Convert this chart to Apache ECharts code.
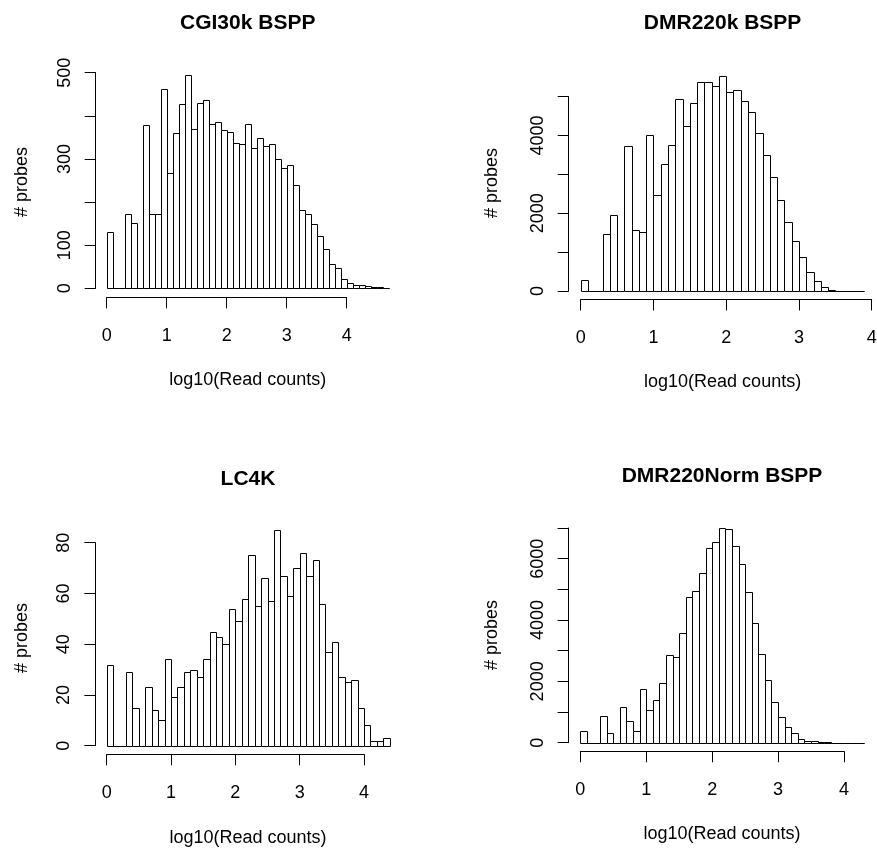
<!DOCTYPE html>
<html>
<head>
<meta charset="utf-8">
<script src="https://cdn.jsdelivr.net/npm/echarts@6/dist/echarts.min.js"></script>
<style>
html,body{margin:0;padding:0;background:#fff;}
#chart{width:877px;height:848px;}
</style>
</head>
<body>
<div id="chart"></div>
<script>
// Histogram break points (log10 read counts), bin width 0.1
const binEdges = [0,0.1,0.2,0.3,0.4,0.5,0.6,0.7,0.8,0.9,1.0,1.1,1.2,1.3,1.4,1.5,1.6,1.7,1.8,1.9,2.0,2.1,2.2,2.3,2.4,2.5,2.6,2.7,2.8,2.9,3.0,3.1,3.2,3.3,3.4,3.5,3.6,3.7,3.8,3.9,4.0,4.1,4.2,4.3,4.4,4.5,4.6,4.7];

// Panel titles
const panelTitles = ['CGI30k BSPP', 'DMR220k BSPP', 'LC4K', 'DMR220Norm BSPP'];
const xAxisTitle = 'log10(Read counts)';
const yAxisTitle = '# probes';

// Bin counts
const countsCGI30k = [130,0,0,173,152,0,378,173,173,463,267,359,427,495,369,429,437,380,385,366,363,337,335,380,326,348,330,335,301,280,287,239,181,173,150,122,91,56,48,21,13,7,8,5,2,2,1];
const countsDMR220k = [292,0,0,1458,1964,0,3731,1561,1509,4005,2461,3259,3765,4931,4245,4828,5369,5386,5274,5532,5120,5163,4880,4614,4057,3490,2942,2333,1775,1286,875,495,270,100,30,12,5,2,1];
const countsLC4K = [32,0,0,29,15,0,23,14,10,34,19,23,29,30,27,34,45,43,40,54,49,58,75,55,66,57,85,67,59,70,76,67,73,56,37,41,27,25,26,15,8,2,2,3];
const countsDMR220Norm = [391,0,0,880,304,0,1152,696,370,1761,1065,1380,1935,2848,2793,3565,4761,4946,5533,6348,6533,7000,6957,6424,5837,4913,3891,2880,2033,1337,826,497,306,109,65,43,22,10,5,3,2,1,1];

// Axis ticks and the tick labels that are printed
const xTicks = [0,1,2,3,4];
const yTicksCGI30k = [0,100,200,300,400,500];
const yLabelsCGI30k = [0,100,300,500];
const yTicksDMR220k = [0,1000,2000,3000,4000,5000];
const yLabelsDMR220k = [0,2000,4000];
const yTicksLC4K = [0,20,40,60,80];
const yLabelsLC4K = [0,20,40,60,80];
const yTicksDMR220Norm = [0,1000,2000,3000,4000,5000,6000,7000];
const yLabelsDMR220Norm = [0,2000,4000,6000];

const FONT = '"Liberation Sans", Arial, Helvetica, sans-serif';

const layout = [
  {grid:{left:106.7, top:72.7, width:240, height:215.6}, xOff:9, yOff:11, title:[247.7,23], xName:[247.7,380], yName:[22,182]},
  {grid:{left:580.7, top:96.7, width:291, height:194.3}, xOff:8.5, yOff:12, title:[722.6,23], xName:[722.6,382], yName:[492,183]},
  {grid:{left:106.7, top:542.7, width:257.3, height:203}, xOff:8.6, yOff:11.3, title:[248,479], xName:[248,838], yName:[22,638]},
  {grid:{left:580.3, top:528, width:263.7, height:214.7}, xOff:8.6, yOff:11.7, title:[722,476], xName:[722,834], yName:[492,635]}
];

const panelCounts = [countsCGI30k, countsDMR220k, countsLC4K, countsDMR220Norm];
const panelYTicks = [yTicksCGI30k, yTicksDMR220k, yTicksLC4K, yTicksDMR220Norm];
const panelYLabels = [yLabelsCGI30k, yLabelsDMR220k, yLabelsLC4K, yLabelsDMR220Norm];

const grids = [], xAxes = [], yAxes = [], series = [], graphics = [];

panelCounts.forEach((counts, i) => {
  const L = layout[i];
  const yt = panelYTicks[i];
  const yl = panelYLabels[i];
  grids.push(Object.assign({containLabel:false, outerBoundsMode:'none'}, L.grid));
  xAxes.push({
    type:'value', gridIndex:i, min:xTicks[0], max:xTicks[xTicks.length-1], interval:xTicks[1]-xTicks[0],
    offset:L.xOff,
    axisLine:{show:true, onZero:false, lineStyle:{color:'#000', width:1}},
    axisTick:{show:true, length:11, lineStyle:{color:'#000', width:1}},
    axisLabel:{show:true, margin:30, color:'#000', fontSize:18, fontFamily:FONT},
    splitLine:{show:false}
  });
  yAxes.push({
    type:'value', gridIndex:i, min:yt[0], max:yt[yt.length-1], interval:yt[1]-yt[0],
    offset:L.yOff,
    axisLine:{show:true, onZero:false, lineStyle:{color:'#000', width:1}},
    axisTick:{show:true, length:11, lineStyle:{color:'#000', width:1}},
    axisLabel:{show:true, rotate:90, margin:22, color:'#000', fontSize:18, fontFamily:FONT,
      formatter: v => (yl.indexOf(v) >= 0 ? String(v) : '')},
    splitLine:{show:false}
  });
  const data = counts.map((c, k) => [binEdges[k], binEdges[k+1], c]);
  series.push({
    type:'custom', xAxisIndex:i, yAxisIndex:i, clip:false, silent:true,
    encode:{x:[0,1], y:2},
    data:data,
    renderItem:(params, api) => {
      const p0 = api.coord([api.value(0), 0]);
      const p1 = api.coord([api.value(1), api.value(2)]);
      const x0 = Math.round(p0[0]) + 0.5, x1 = Math.round(p1[0]) + 0.5;
      const yb = Math.round(p0[1]) + 0.5, yt2 = Math.round(p1[1]) + 0.5;
      return {
        type:'polygon',
        shape:{points:[[x0,yb],[x0,yt2],[x1,yt2],[x1,yb]]},
        style:{fill:'#fff', stroke:'#000', lineWidth:1}
      };
    }
  });
  graphics.push({type:'text', x:L.title[0], y:L.title[1],
    style:{text:panelTitles[i], font:'bold 21px ' + FONT, fill:'#000', align:'center', verticalAlign:'middle', textAlign:'center', textVerticalAlign:'middle'}});
  graphics.push({type:'text', x:L.xName[0], y:L.xName[1],
    style:{text:xAxisTitle, font:'18px ' + FONT, fill:'#000', align:'center', verticalAlign:'middle', textAlign:'center', textVerticalAlign:'middle'}});
  graphics.push({type:'text', x:L.yName[0], y:L.yName[1], rotation:Math.PI/2,
    style:{text:yAxisTitle, font:'18px ' + FONT, fill:'#000', align:'center', verticalAlign:'middle', textAlign:'center', textVerticalAlign:'middle'}});
});

const chart = echarts.init(document.getElementById('chart'), null, {renderer:'canvas'});
chart.setOption({
  animation:false,
  backgroundColor:'#fff',
  grid:grids, xAxis:xAxes, yAxis:yAxes, series:series, graphic:graphics
});
</script>
</body>
</html>
